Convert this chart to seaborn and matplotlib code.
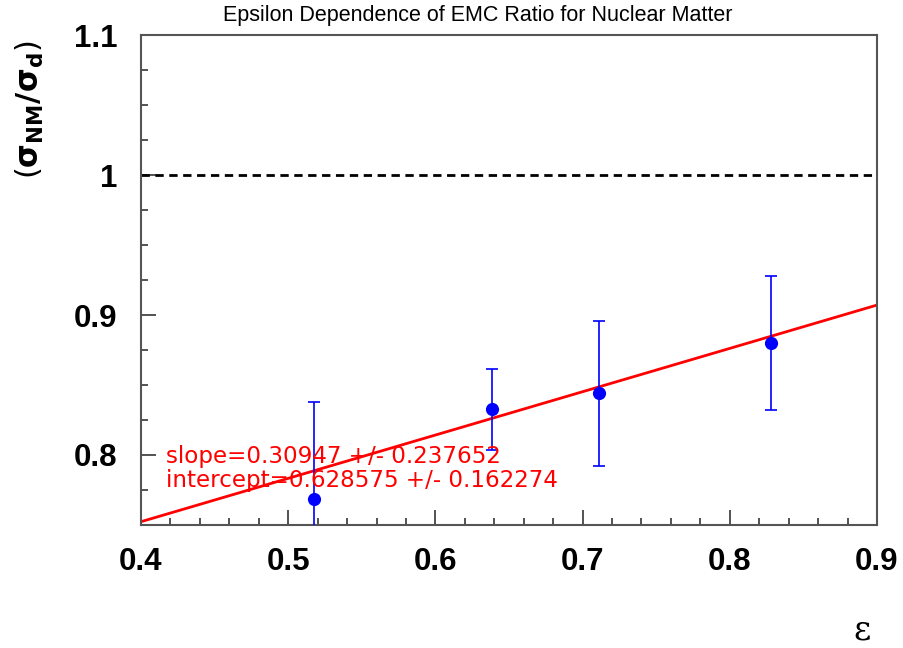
import matplotlib
matplotlib.use("Agg")
import matplotlib.pyplot as plt
import seaborn as sns
import numpy as np
import pandas as pd
from matplotlib.ticker import MultipleLocator

# ---- data ----
epsilon = [0.5177, 0.6387, 0.7111, 0.8280]
ratio = [0.7686, 0.8326, 0.8440, 0.8798]
ratio_err = [0.069, 0.029, 0.052, 0.048]
slope = 0.30947
slope_err = 0.237652
intercept = 0.628575
intercept_err = 0.162274
fit_x = [0.4, 0.9]
reference_level = 1.0
title = "Epsilon Dependence of EMC Ratio for Nuclear Matter"
x_ticks = [0.4, 0.5, 0.6, 0.7, 0.8, 0.9]
y_ticks = [0.8, 0.9, 1.0, 1.1]
y_tick_labels = ["0.8", "0.9", "1", "1.1"]

sns.set_theme(style="white")
plt.rcParams['font.family'] = ['Liberation Sans', 'DejaVu Sans']

fig = plt.figure(figsize=(9.04, 6.48), dpi=100)
ax = fig.add_axes([141/904, 1-525/648, (877-141)/904, (525-35)/648])

df = pd.DataFrame({"eps": epsilon, "ratio": ratio, "err": ratio_err})
fit_df = pd.DataFrame({"x": fit_x, "y": [intercept + slope * v for v in fit_x]})

# reference line
ax.axhline(reference_level, color="black", lw=2.0, ls=(0, (3.0, 2.0)), zorder=1)

# fit line
sns.lineplot(data=fit_df, x="x", y="y", color="red", lw=2.0, ax=ax, zorder=2)

# error bars + points
ax.errorbar(df["eps"], df["ratio"], yerr=df["err"], fmt="none", ecolor="blue",
            elinewidth=1.2, capsize=4, capthick=1.2, zorder=3)
sns.scatterplot(data=df, x="eps", y="ratio", color="blue", s=90, edgecolor="blue",
                linewidth=0, ax=ax, zorder=4)

ax.set_xlim(0.4, 0.9)
ax.set_ylim(0.75, 1.1)
ax.set_xlabel("")
ax.set_ylabel("")

ax.set_xticks(x_ticks)
ax.set_xticklabels([f"{v:.1f}" for v in x_ticks])
ax.set_yticks(y_ticks)
ax.set_yticklabels(y_tick_labels)
ax.xaxis.set_minor_locator(MultipleLocator(0.02))
ax.yaxis.set_minor_locator(MultipleLocator(0.025))

for lab in ax.get_xticklabels() + ax.get_yticklabels():
    lab.set_fontweight("bold")
    lab.set_fontsize(22.5)
    lab.set_color("black")

ax.tick_params(axis="both", which="major", direction="in", length=11, width=1.3,
               color="#444444", bottom=True, left=True, top=False, right=False)
ax.tick_params(axis="both", which="minor", direction="in", length=5, width=1.3,
               color="#444444", bottom=True, left=True, top=False, right=False)
ax.tick_params(axis="x", which="major", pad=16)
ax.tick_params(axis="y", which="major", pad=17)

for sp in ax.spines.values():
    sp.set_color("#555555")
    sp.set_linewidth(1.5)
    sp.set_visible(True)

ann_font = ['DejaVu Sans']
ax.text(0.4 + 25/1472, 0.7943, f"slope={slope} +/- {slope_err}", color="red",
        fontsize=16.6, family=ann_font, va="baseline", ha="left", zorder=5)
ax.text(0.4 + 25/1472, 0.7771, f"intercept={intercept} +/- {intercept_err}", color="red",
        fontsize=16.6, family=ann_font, va="baseline", ha="left", zorder=5)

fig.text(478/904, 1-16/648, title, ha="center", va="center", fontsize=15.5, color="black")
fig.text(30/904, 1-110/648, r"$(\mathbf{\sigma_{NM}/\sigma_{d}})$", rotation=90,
         ha="center", va="center", fontsize=22, fontweight="bold", color="black")
fig.text(862/904, 1-630/648, "ε", ha="center", va="center", fontsize=24,
         family=['DejaVu Serif'], color="black")

fig.savefig("out.png", dpi=100)
